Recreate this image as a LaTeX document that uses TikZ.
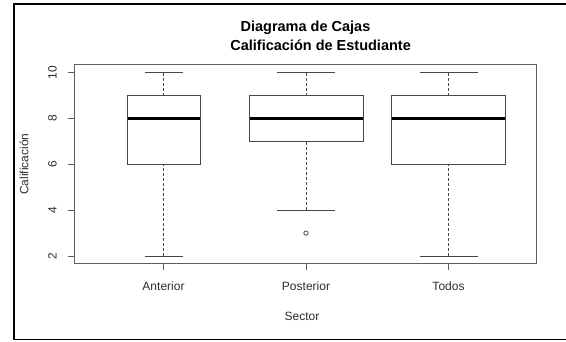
\documentclass[tikz,border=0pt]{standalone}
\usepackage{fontspec}
\setmainfont{Liberation Sans}
\usetikzlibrary{positioning}
\definecolor{axisgray}{RGB}{95,95,95}
\definecolor{boxgray}{RGB}{70,70,70}
\definecolor{textgray}{RGB}{45,45,45}

\begin{document}
\begin{tikzpicture}[x=1pt,y=1pt,
    lbl/.style={inner sep=0pt, text=textgray, font=\fontsize{12}{14}\selectfont},
    whisker/.style={boxgray, line width=0.9pt, dash pattern=on 3pt off 2pt}]
  \useasboundingbox (0,0) rectangle (566,341);

  % marco exterior
  \draw[line width=1.4pt] (566,337) -- (14,337) -- (14,1.5) -- (566,1.5);
  % caja del grafico
  \draw[axisgray, line width=1pt] (74.7,77.5) rectangle (536,276);

  % titulo
  \node[inner sep=0pt, font=\fontsize{14.5}{16}\selectfont\bfseries] (title1) at (305.5,313.7) {Diagrama de Cajas};
  \node[inner sep=0pt, font=\fontsize{14.5}{16}\selectfont\bfseries] (title2) at (320.6,296) {Calificación de Estudiante};

  % ejes
  \node[lbl, rotate=90] (ylab) at (24,177) {Calificación};
  \node[lbl] (xlab) at (302,25) {Sector};

  \begin{scope}[y=22.92pt, yshift=39.16pt]
    \foreach \v in {2,4,...,10} {
      \draw[axisgray, line width=1pt] (67.7,\v) -- (74.7,\v);
      \node[lbl, rotate=90] (ytick\v) at (52.5,\v) {\v};
    }
    \foreach \name/\cx/\hb/\hc/\lo/\qa/\md/\qb/\hi/\txt in
        {ant/163.5/36.5/19/2/6/8/9/10/Anterior,
         pos/306/57/29/4/7/8/9/10/Posterior,
         tod/448.5/57/29/2/6/8/9/10/Todos} {
      \draw[whisker] (\cx,\lo) -- (\cx,\qa);
      \draw[whisker] (\cx,\qb) -- (\cx,\hi);
      \draw[boxgray, line width=1pt] ({\cx-\hc},\lo) -- ({\cx+\hc},\lo);
      \draw[boxgray, line width=1pt] ({\cx-\hc},\hi) -- ({\cx+\hc},\hi);
      \draw[boxgray, line width=1pt, fill=white] ({\cx-\hb},\qa) rectangle ({\cx+\hb},\qb);
      \draw[black, line width=2.4pt] ({\cx-\hb+0.5},\md) -- ({\cx+\hb-0.5},\md);
      \draw[axisgray, line width=1pt] (\cx,77.5pt-39.16pt) -- (\cx,71pt-39.16pt);
      \node[lbl] (xtick\name) at (\cx,55pt-39.16pt) {\txt};
    }
    % valor atipico
    \draw[boxgray, line width=0.8pt] (306,3) circle[radius=2.2pt];
  \end{scope}
\end{tikzpicture}
\end{document}
